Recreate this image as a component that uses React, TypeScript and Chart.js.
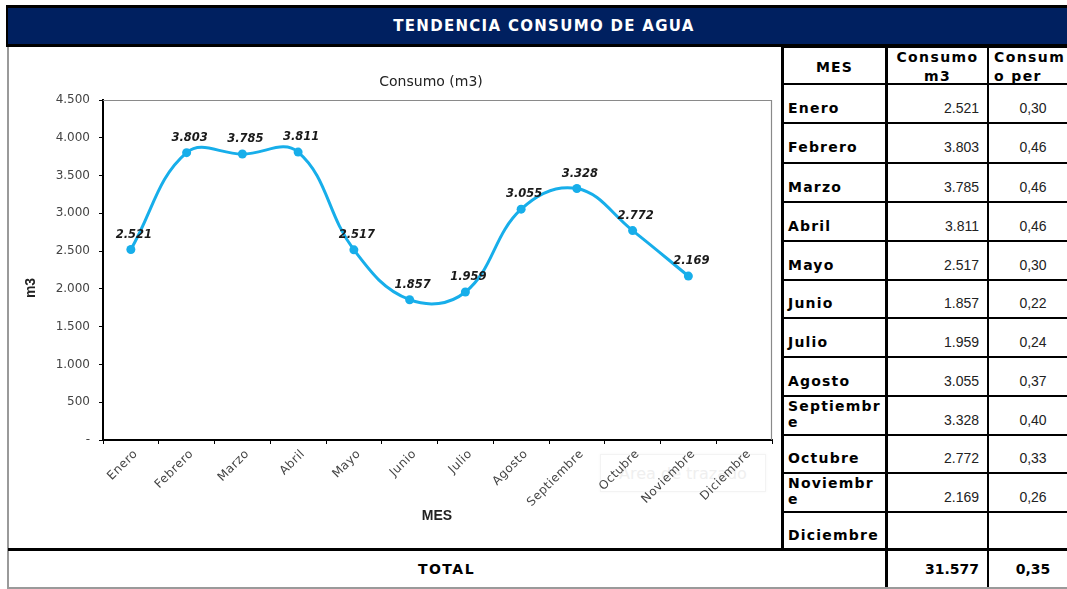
import React, { useEffect, useRef } from "react";
import { Chart, registerables } from "chart.js";

Chart.register(...registerables);

// ---------- DATA ----------
const months: string[] = [
  "Enero", "Febrero", "Marzo", "Abril", "Mayo", "Junio",
  "Julio", "Agosto", "Septiembre", "Octubre", "Noviembre", "Diciembre",
];
const consumo: (number | null)[] = [2521, 3803, 3785, 3811, 2517, 1857, 1959, 3055, 3328, 2772, 2169, null];
const consumoPer: string[] = ["0,30", "0,46", "0,46", "0,46", "0,30", "0,22", "0,24", "0,37", "0,40", "0,33", "0,26", ""];
const tableMonthLines: string[][] = [
  ["Enero"], ["Febrero"], ["Marzo"], ["Abril"], ["Mayo"], ["Junio"],
  ["Julio"], ["Agosto"], ["Septiembr", "e"], ["Octubre"], ["Noviembr", "e"], ["Diciembre"],
];
const totalConsumo = "31.577";
const totalPer = "0,35";
const yMin = 0;
const yMax = 4500;
const yStep = 500;

const headerTitle = "TENDENCIA CONSUMO DE AGUA";
const chartTitle = "Consumo (m3)";
const yTitle = "m3";
const xTitle = "MES";

// ---------- STYLE ----------
const LINE_COLOR = "#17AEEA";
const NAVY = "#002060";

const fmt = (v: number) => String(v).replace(/\B(?=(\d{3})+(?!\d))/g, ".");

const CW = 773;
const CH = 501;

const rowBounds = [47, 84, 123, 163, 202, 241, 280, 318, 357, 396, 435, 473, 512, 550];

function ChartBox() {
  const ref = useRef<HTMLCanvasElement | null>(null);
  useEffect(() => {
    if (!ref.current) return;
    const overlay = {
      id: "overlay",
      beforeDatasetsDraw(chart: any) {
        const { ctx, chartArea: a } = chart;
        ctx.save();
        ctx.strokeStyle = "#8a8a8a";
        ctx.lineWidth = 1.2;
        ctx.beginPath();
        ctx.moveTo(a.left, a.top + 0.5);
        ctx.lineTo(a.right - 0.5, a.top + 0.5);
        ctx.lineTo(a.right - 0.5, a.bottom);
        ctx.stroke();
        ctx.restore();
      },
      afterDatasetsDraw(chart: any) {
        const { ctx } = chart;
        const meta = chart.getDatasetMeta(0);
        ctx.save();
        ctx.font = "italic bold 11.5px 'DejaVu Sans'";
        ctx.fillStyle = "#1a1a1a";
        ctx.textAlign = "center";
        ctx.textBaseline = "alphabetic";
        meta.data.forEach((pt: any, i: number) => {
          const v = consumo[i];
          if (v == null) return;
          ctx.fillText(fmt(v), pt.x + 3, pt.y - 12);
        });
        ctx.restore();
      },
      afterDraw(chart: any) {
        const { ctx, chartArea: a } = chart;
        const xs = chart.scales.x;
        // rotated category labels
        ctx.save();
        ctx.font = "12px 'DejaVu Sans'";
        (ctx as any).letterSpacing = "0.5px";
        ctx.fillStyle = "#444";
        ctx.textAlign = "right";
        ctx.textBaseline = "middle";
        months.forEach((m, i) => {
          const x = xs.getPixelForValue(i);
          ctx.save();
          ctx.translate(x + 5, a.bottom + 12);
          ctx.rotate(-Math.PI / 4);
          ctx.fillText(m, 0, 0);
          ctx.restore();
        });
        ctx.restore();

        ctx.save();
        ctx.fillStyle = "#222";
        ctx.textAlign = "center";
        ctx.textBaseline = "middle";
        ctx.font = "14px 'DejaVu Sans'";
        ctx.fillText(chartTitle, 423, 35);
        ctx.font = "bold 14px 'Liberation Sans'";
        ctx.fillText(xTitle, 429, 469);
        ctx.translate(23, 241);
        ctx.rotate(-Math.PI / 2);
        ctx.font = "bold 14px 'Liberation Sans'";
        ctx.fillText(yTitle, 0, 0);
        ctx.restore();
      },
    };
    const chart = new Chart(ref.current, {
      type: "line",
      data: {
        labels: months,
        datasets: [
          {
            data: consumo,
            borderColor: LINE_COLOR,
            backgroundColor: LINE_COLOR,
            borderWidth: 3,
            pointRadius: 4.5,
            pointBackgroundColor: LINE_COLOR,
            pointBorderWidth: 0,
            tension: 0.4,
            fill: false,
          },
        ],
      },
      options: {
        animation: false,
        responsive: false,
        devicePixelRatio: 1,
        layout: { padding: { left: 0, top: 53, right: 9, bottom: 0 } },
        plugins: { legend: { display: false }, tooltip: { enabled: false }, title: { display: false } },
        scales: {
          x: {
            type: "category",
            offset: true,
            afterFit(scale: any) {
              scale.height = 108;
            },
            grid: { offset: true, drawOnChartArea: false, tickLength: 4, color: "#000", lineWidth: 1 },
            border: { display: true, color: "#000", width: 2 },
            ticks: { display: false, autoSkip: false },
          },
          y: {
            min: yMin,
            max: yMax,
            afterFit(scale: any) {
              scale.width = 95;
            },
            grid: { drawOnChartArea: false, tickLength: 4, color: "#000", lineWidth: 1 },
            border: { display: true, color: "#000", width: 2 },
            ticks: {
              stepSize: yStep,
              padding: 9,
              color: "#444",
              font: { family: "'DejaVu Sans'", size: 12 },
              callback: (v: any) => (Number(v) === 0 ? "-" : fmt(Number(v))),
            },
          },
        },
      },
      plugins: [overlay],
    } as any);
    return () => chart.destroy();
  }, []);
  return <canvas ref={ref} width={CW} height={CH} style={{ display: "block", width: CW, height: CH }} />;
}

const abs = (l: number, t: number, w: number, h: number, extra: React.CSSProperties = {}): React.CSSProperties => ({
  position: "absolute",
  left: l,
  top: t,
  width: w,
  height: h,
  ...extra,
});

const boldFont: React.CSSProperties = {
  fontFamily: "'DejaVu Sans', sans-serif",
  fontWeight: "bold",
  fontSize: 14,
  letterSpacing: "1.2px",
  color: "#000",
};
const numFont: React.CSSProperties = {
  fontFamily: "'Liberation Sans', Arial, sans-serif",
  fontSize: 14,
  color: "#222",
};

export default function App() {
  const rows = months.map((_, i) => {
    const t = rowBounds[i + 1];
    const b = rowBounds[i + 2];
    const lines = tableMonthLines[i];
    const two = lines.length > 1;
    const v = consumo[i];
    return (
      <React.Fragment key={i}>
        <div
          style={abs(784, t + 2, 101, b - t - 2, {
            ...boldFont,
            display: "flex",
            flexDirection: "column",
            justifyContent: "center",
            paddingLeft: 4,
            boxSizing: "border-box",
            lineHeight: two ? "16px" : "18px",
            transform: two ? "translateY(-3px)" : "translateY(3px)",
            overflow: "visible",
          })}
        >
          {lines.map((l, k) => (
            <div key={k}>{l}</div>
          ))}
        </div>
        <div
          style={abs(888, t + 2, 99, b - t - 2, {
            ...numFont,
            display: "flex",
            alignItems: "center",
            justifyContent: "flex-end",
            paddingRight: 8,
            boxSizing: "border-box",
            transform: "translateY(3px)",
          })}
        >
          {v == null ? "" : fmt(v)}
        </div>
        <div
          style={abs(989, t + 2, 88, b - t - 2, {
            ...numFont,
            display: "flex",
            alignItems: "center",
            justifyContent: "center",
            transform: "translateY(3px)",
          })}
        >
          {consumoPer[i]}
        </div>
      </React.Fragment>
    );
  });

  return (
    <div style={abs(0, 0, 1067, 589, { overflow: "hidden", background: "#fff" })}>
      {/* header bar */}
      <div
        style={abs(6, 5, 1080, 42, {
          background: NAVY,
          borderTop: "3px solid #000",
          borderBottom: "3px solid #000",
          borderLeft: "2px solid #000",
          boxSizing: "border-box",
          display: "flex",
          alignItems: "center",
          justifyContent: "center",
          color: "#fff",
          fontFamily: "'DejaVu Sans', sans-serif",
          fontWeight: "bold",
          fontSize: 15,
          letterSpacing: "1.3px",
          paddingRight: 6,
        })}
      >
        {headerTitle}
      </div>

      {/* left grey frame line */}
      <div style={abs(7, 47, 1.5, 541, { background: "#9a9a9a" })} />
      {/* bottom grey line */}
      <div style={abs(7, 587, 1070, 1.5, { background: "#9a9a9a" })} />

      {/* faint Excel tooltip */}
      <div
        style={abs(600, 454, 166, 38, {
          border: "1px solid #f3f3f3",
          boxShadow: "0 0 3px rgba(0,0,0,0.04)",
          boxSizing: "border-box",
          display: "flex",
          alignItems: "center",
          justifyContent: "center",
          fontFamily: "'DejaVu Sans', sans-serif",
          fontSize: 16,
          color: "#efefef",
        })}
      >
        Área de trazado
      </div>

      {/* chart */}
      <div style={abs(8, 47, CW, CH)}>
        <ChartBox />
      </div>

      {/* table header */}
      <div
        style={abs(784, 48, 101, 36, {
          ...boldFont,
          display: "flex",
          alignItems: "center",
          justifyContent: "center",
          transform: "translateY(1px)",
        })}
      >
        MES
      </div>
      <div
        style={abs(888, 48, 99, 36, {
          ...boldFont,
          letterSpacing: "1.4px",
          lineHeight: "19px",
          textAlign: "center",
          overflow: "hidden",
        })}
      >
        <div>Consumo</div>
        <div>m3</div>
      </div>
      <div
        style={abs(989, 48, 88, 36, {
          ...boldFont,
          letterSpacing: "1.4px",
          lineHeight: "19px",
          textAlign: "left",
          paddingLeft: 5,
          boxSizing: "border-box",
          overflow: "hidden",
          whiteSpace: "nowrap",
        })}
      >
        <div>Consum</div>
        <div>o per</div>
      </div>

      {rows}

      {/* table horizontal lines */}
      {rowBounds.slice(0, rowBounds.length - 1).map((y, i) => (
        <div key={"h" + i} style={abs(781, y - 1, 300, 2, { background: "#000" })} />
      ))}
      {/* thick total separator */}
      <div style={abs(8, 548, 1070, 3, { background: "#000" })} />
      {/* table vertical lines */}
      <div style={abs(781, 46, 3, 503, { background: "#000" })} />
      <div style={abs(885, 46, 3, 541, { background: "#000" })} />
      <div style={abs(987, 46, 2, 541, { background: "#000" })} />

      {/* total row */}
      <div
        style={abs(8, 551, 877, 36, {
          ...boldFont,
          letterSpacing: "1.5px",
          display: "flex",
          alignItems: "center",
          justifyContent: "center",
        })}
      >
        TOTAL
      </div>
      <div
        style={abs(888, 551, 99, 36, {
          ...boldFont,
          letterSpacing: "0px",
          display: "flex",
          alignItems: "center",
          justifyContent: "flex-end",
          paddingRight: 8,
          boxSizing: "border-box",
        })}
      >
        {totalConsumo}
      </div>
      <div
        style={abs(989, 551, 88, 36, {
          ...boldFont,
          letterSpacing: "0px",
          display: "flex",
          alignItems: "center",
          justifyContent: "center",
        })}
      >
        {totalPer}
      </div>
    </div>
  );
}
